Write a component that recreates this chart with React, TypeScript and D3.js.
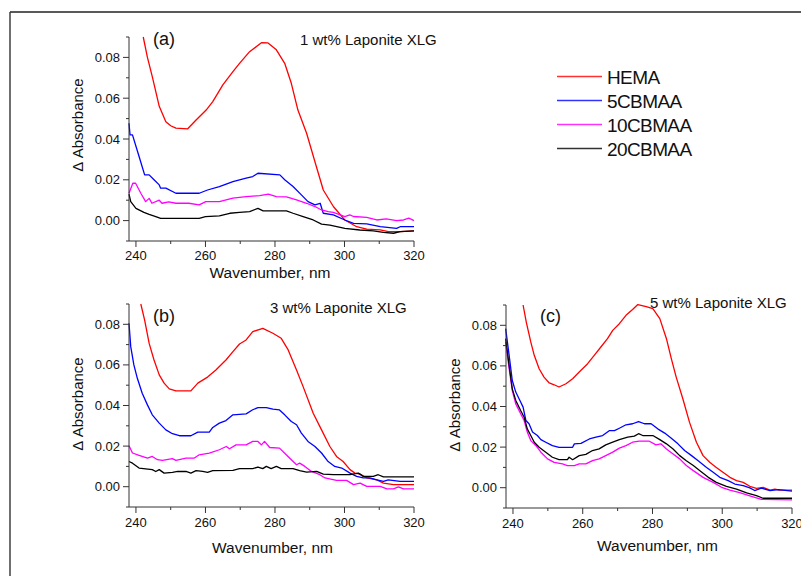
import React from "react";
import * as d3 from "d3";

type P = [number, number];

const seriesNames = ["HEMA", "5CBMAA", "10CBMAA", "20CBMAA"];
const seriesColors = ["#ff0000", "#0000ff", "#ff00ff", "#000000"];
const xTicks = [240, 260, 280, 300, 320];
const xMinor = [250, 270, 290, 310];
const yTicks = [0, 0.02, 0.04, 0.06, 0.08];
const yMinor = [-0.01, 0.01, 0.03, 0.05, 0.07, 0.09];
const xDomain: P = [238, 320];
const yDomain: P = [-0.01, 0.09];
const panelLabels = ["(a)", "(b)", "(c)"];
const panelTitles = ["1 wt% Laponite XLG", "3 wt% Laponite XLG", "5 wt% Laponite XLG"];

const aHEMA: P[] = [[242.1,0.09],[243.3,0.080],[244.7,0.0706],[246.7,0.056],[248.6,0.0485],[250,0.0465],[251.5,0.0453],[254.9,0.045],[257.3,0.0493],[260.2,0.0542],[262.1,0.0583],[265,0.0665],[267.9,0.073],[269.8,0.0771],[272.7,0.0828],[276.1,0.0872],[278,0.0871],[280.4,0.0837],[282.8,0.0771],[284.7,0.0673],[286.6,0.0542],[289.1,0.0428],[291.9,0.0265],[293.9,0.015],[296.8,0.0069],[300.1,0.0003],[303.5,-0.003],[306.4,-0.0042],[310.3,-0.0045],[312.6,-0.0054],[316,-0.0054],[320,-0.005]];
const a5: P[] = [[238,0.0477],[238.3,0.042],[239,0.042],[240.9,0.0314],[242.5,0.0224],[243.8,0.0224],[245.2,0.02],[246.7,0.0175],[247.1,0.0159],[248.6,0.0159],[251.5,0.0134],[258.2,0.0134],[260.6,0.015],[264,0.0167],[267.9,0.0191],[271.7,0.0208],[273.6,0.0216],[275.1,0.0232],[281.4,0.0224],[282.8,0.02],[285.2,0.0167],[287.6,0.0126],[289.5,0.0093],[291.5,0.0077],[293,0.0085],[293.9,0.0036],[296.8,0.0028],[300.1,0.0003],[302.6,-0.0014],[306.4,-0.0016],[310.3,-0.003],[315,-0.0038],[316,-0.003],[320,-0.003]];
const a10: P[] = [[238,0.0134],[239.1,0.0183],[239.9,0.0183],[241.4,0.0134],[242.8,0.0093],[243.8,0.0109],[244.6,0.0085],[246.7,0.01],[247.5,0.0085],[249.4,0.0092],[251.5,0.0085],[255.2,0.0085],[258.2,0.0077],[260.1,0.0093],[264,0.0093],[267.9,0.011],[271.7,0.0118],[275.6,0.0122],[278.1,0.013],[280.4,0.0118],[283.3,0.0116],[286.2,0.0101],[289.1,0.0085],[291.5,0.0069],[293.4,0.0052],[295.3,0.0044],[296.8,0.004],[300.1,0.002],[301.5,0.0028],[302.6,0.002],[306.4,0.0016],[309.3,0.0003],[312,0.0008],[315,0],[317,0.0003],[318.5,0.0012],[320,0]];
const a20: P[] = [[238,0.013],[238.5,0.0093],[240,0.006],[242.3,0.004],[243.8,0.003],[245.7,0.002],[247.1,0.0011],[258.2,0.0011],[260,0.0019],[264,0.0023],[267,0.0036],[269.8,0.004],[272.7,0.0044],[275.1,0.006],[276.6,0.0048],[283.3,0.0048],[285.2,0.0036],[288.1,0.0019],[291,0.0003],[293.4,-0.0017],[295.8,-0.0022],[300.1,-0.0038],[304.4,-0.0046],[308.3,-0.005],[311.2,-0.0058],[314.1,-0.0062],[316,-0.0054],[320,-0.005]];

const bHEMA: P[] = [[241.4,0.09],[242.5,0.0821],[243.8,0.0706],[245.2,0.0624],[246.7,0.0551],[248.1,0.051],[249.6,0.0482],[251.5,0.0472],[255.8,0.0472],[257.8,0.051],[260.6,0.054],[263,0.0575],[265.9,0.0624],[267.9,0.0665],[269.8,0.0703],[271.7,0.0723],[273.6,0.0764],[276.5,0.078],[279.4,0.0756],[281.8,0.0731],[283.8,0.0674],[286.2,0.0575],[288.1,0.0493],[291,0.0362],[293.4,0.028],[295.8,0.0198],[297.7,0.0149],[299.6,0.0124],[301.6,0.0084],[303,0.0067],[304.5,0.0062],[306.4,0.0043],[309.3,0.0034],[311.2,0.0018],[314.1,0.001],[320,0.001]];
const b5: P[] = [[238,0.0805],[238.5,0.069],[239.4,0.06],[240.4,0.0534],[241.8,0.046],[243.3,0.0403],[244.7,0.0354],[246.7,0.0313],[248.6,0.028],[250.5,0.0261],[252.5,0.0251],[255.8,0.0251],[257.8,0.0269],[261.1,0.0269],[262.1,0.0292],[264,0.0313],[265.9,0.0326],[267.9,0.0354],[271.7,0.0359],[273.6,0.0379],[275.1,0.039],[277.5,0.039],[279.4,0.0382],[281.3,0.0378],[282.8,0.0354],[284.7,0.0321],[286.2,0.0305],[287.6,0.0264],[289.5,0.0223],[291.5,0.0198],[293.4,0.0166],[295.3,0.0124],[297.2,0.01],[299.2,0.0092],[301.6,0.0067],[303.5,0.0051],[305.4,0.0043],[307.3,0.0043],[309.3,0.0034],[311.2,0.0026],[312.6,0.0034],[316,0.0026],[320,0.0026]];
const b10: P[] = [[238,0.0202],[239,0.0166],[240.9,0.0154],[243.3,0.0141],[244.7,0.0149],[246.2,0.0133],[247.6,0.013],[250.5,0.0138],[251.5,0.013],[254.4,0.0141],[256.8,0.0141],[258.2,0.0157],[261.1,0.0165],[264,0.0182],[266,0.0198],[266.9,0.0187],[268.8,0.0206],[271.7,0.0206],[273.6,0.0223],[275.1,0.0223],[276.1,0.0206],[277,0.0223],[278.5,0.0193],[281.3,0.019],[282.8,0.0165],[284.7,0.0133],[286.2,0.0108],[287.1,0.0116],[288.6,0.01],[290.5,0.0075],[292.9,0.0059],[294.4,0.0043],[297.7,0.0031],[300.6,0.0031],[302.6,0.001],[304.5,0.0018],[306.4,0.0002],[310.3,0.0002],[312.2,-0.0011],[314.1,-0.0011],[315.5,-0.0001],[317,-0.0011],[320,-0.0011]];
const b20: P[] = [[238,0.0124],[239,0.0116],[240.9,0.0092],[244.7,0.0084],[245.7,0.0075],[246.7,0.0084],[248.1,0.0067],[250.5,0.0071],[252,0.0075],[254.4,0.0075],[255.8,0.0067],[257.3,0.0079],[259.2,0.0075],[260.6,0.0071],[262.1,0.0079],[267.9,0.008],[269.8,0.0089],[273.6,0.0089],[275.1,0.0097],[276.5,0.0089],[277.5,0.01],[278.9,0.0089],[280.4,0.01],[281.8,0.0089],[285.2,0.0089],[287.1,0.0079],[289.1,0.0072],[292,0.0075],[293.9,0.0062],[296.8,0.0059],[301.6,0.0059],[304,0.0067],[305.4,0.0051],[308.3,0.0051],[309.7,0.0059],[311.2,0.0048],[320,0.0048]];

const cHEMA: P[] = [[242.9,0.09],[243.8,0.0817],[245.1,0.0718],[246.1,0.0652],[247.5,0.0586],[248.9,0.0545],[250.4,0.0516],[251.8,0.0507],[253.2,0.0496],[255.2,0.0512],[257.1,0.0537],[259,0.057],[261.4,0.0611],[263.3,0.0652],[265.2,0.0693],[267.1,0.0734],[268.6,0.0775],[270.5,0.0808],[272.4,0.0849],[274.3,0.0878],[275.8,0.0902],[278.2,0.0892],[280.1,0.0882],[282.1,0.0833],[284,0.0734],[285.4,0.0636],[286.8,0.0545],[288.7,0.0438],[290.6,0.0323],[292.6,0.0224],[294.5,0.0158],[296.4,0.0125],[298.3,0.01],[300.2,0.0076],[302.2,0.0051],[304.1,0.0035],[306,0.0026],[307.9,0.0007],[309.8,-0.0003],[311.7,0.0002],[313.7,-0.0012],[315.1,-0.0007],[316.5,-0.0012],[320,-0.0012]];
const c5: P[] = [[237.9,0.0784],[238.9,0.0652],[239.8,0.0528],[240.8,0.0471],[242.2,0.0422],[242.9,0.0397],[243.7,0.0331],[244.6,0.0315],[245.6,0.0274],[247,0.0257],[248,0.0237],[249.4,0.0224],[251.3,0.0207],[253.2,0.0199],[257.1,0.0199],[257.6,0.0216],[259.5,0.0218],[261.9,0.024],[263.8,0.0249],[265.7,0.0257],[267.6,0.0281],[269.1,0.0281],[270.5,0.0293],[272.4,0.031],[274.3,0.0315],[276,0.0326],[277.7,0.0315],[279.6,0.0315],[281.5,0.029],[283.5,0.0269],[285.4,0.0244],[287.3,0.0216],[289.2,0.0183],[291.2,0.0158],[293.1,0.0133],[295.5,0.01],[297.4,0.0076],[299.3,0.0051],[301.7,0.0035],[303.6,0.0018],[306,0.001],[307.9,-0.0001],[309.3,-0.0014],[311.2,-0.0002],[313.7,-0.0014],[316.1,-0.0009],[320,-0.0017]];
const c10: P[] = [[237.9,0.0718],[238.9,0.0586],[239.8,0.0479],[240.8,0.0413],[242.2,0.0364],[243.2,0.0331],[244.1,0.0274],[245.1,0.0232],[246.6,0.0207],[248,0.0175],[249.9,0.0142],[251.8,0.0125],[254.2,0.0117],[255.6,0.0109],[257.6,0.0109],[259,0.0117],[260.9,0.0117],[262.8,0.0133],[264.7,0.0142],[266.6,0.0158],[268.6,0.0175],[270.5,0.0195],[272.4,0.0207],[274.3,0.0224],[276.2,0.0229],[279.1,0.0229],[281,0.0211],[282.4,0.0216],[284,0.0191],[285.9,0.0166],[287.8,0.0142],[289.7,0.0109],[291.7,0.0084],[294.5,0.0051],[297.4,0.0026],[299.8,0.0002],[302.2,-0.0012],[305,-0.0024],[307.9,-0.004],[311.2,-0.0057],[320,-0.006]];
const c20: P[] = [[237.9,0.0734],[238.9,0.0602],[239.8,0.0487],[240.8,0.043],[242.2,0.038],[243.2,0.0347],[244.1,0.029],[245.1,0.0257],[246.1,0.0224],[247.5,0.0199],[249.4,0.0175],[251.3,0.015],[253.2,0.0138],[255.6,0.0138],[256.1,0.015],[257.1,0.0138],[259,0.0158],[260.9,0.0164],[262.8,0.0183],[264.7,0.0191],[266.6,0.0211],[268.6,0.0224],[270.5,0.0237],[272.9,0.0249],[274.8,0.0254],[276,0.0266],[277.2,0.0257],[280.1,0.0257],[282.1,0.0237],[284,0.0216],[285.9,0.0191],[287.8,0.0158],[289.7,0.0133],[291.7,0.0109],[293.6,0.0084],[296,0.0051],[298.3,0.0026],[301.2,0.0007],[304.1,-0.0007],[307,-0.0026],[309.8,-0.0039],[311.7,-0.0052],[320,-0.0052]];

const panelData: P[][][] = [
  [aHEMA, a5, a10, a20],
  [bHEMA, b5, b10, b20],
  [cHEMA, c5, c10, c20],
];

const FONT = "'Liberation Sans', Arial, Helvetica, sans-serif";
const AX = "#333";

interface Layout {
  left: number; right: number; top: number; bottom: number;
  labelX: number; labelY: number;
  titleX: number; titleY: number;
  yTitleX: number; yTitleY: number;
  xTitleX: number; xTitleDy: number; tickDy: number;
}

const layouts: Layout[] = [
  { left: 129, right: 414, top: 37, bottom: 241, labelX: 153, labelY: 45, titleX: 300, titleY: 45, yTitleX: 83, yTitleY: 125, xTitleX: 270, xTitleDy: 37, tickDy: 19 },
  { left: 129, right: 414, top: 304, bottom: 507, labelX: 153, labelY: 322, titleX: 270, titleY: 312.5, yTitleX: 83, yTitleY: 404, xTitleX: 272.5, xTitleDy: 45.5, tickDy: 20 },
  { left: 506, right: 792, top: 305, bottom: 508, labelX: 540, labelY: 322, titleX: 650, titleY: 308, yTitleX: 460, yTitleY: 405, xTitleX: 657.5, xTitleDy: 42.5, tickDy: 20 },
];

function Panel({ idx }: { idx: number }) {
  const L = layouts[idx];
  const x = d3.scaleLinear().domain(xDomain).range([L.left, L.right]);
  const y = d3.scaleLinear().domain(yDomain).range([L.bottom, L.top]);
  const line = d3.line<P>().x((d) => x(d[0])).y((d) => y(d[1]));
  const fmt = d3.format(".2f");
  return (
    <g>
      {panelData[idx].map((s, i) => (
        <path key={i} d={line(s) || ""} fill="none" stroke={seriesColors[i]} strokeWidth={1.3} strokeLinejoin="round" />
      ))}
      <line x1={L.left} x2={L.left} y1={L.top} y2={L.bottom} stroke={AX} strokeWidth={1} />
      <line x1={L.left} x2={L.right} y1={L.bottom} y2={L.bottom} stroke={AX} strokeWidth={1} />
      {yTicks.map((t) => (
        <g key={"y" + t}>
          <line x1={L.left - 6} x2={L.left} y1={y(t)} y2={y(t)} stroke={AX} />
          <text x={L.left - 9} y={y(t) + 4.5} textAnchor="end" fontSize={13} fontFamily={FONT} fill="#111">{fmt(t)}</text>
        </g>
      ))}
      {yMinor.map((t) => (
        <line key={"ym" + t} x1={L.left - 3} x2={L.left} y1={y(t)} y2={y(t)} stroke={AX} />
      ))}
      {xTicks.map((t) => (
        <g key={"x" + t}>
          <line x1={x(t)} x2={x(t)} y1={L.bottom} y2={L.bottom + 6} stroke={AX} />
          <text x={x(t)} y={L.bottom + L.tickDy} textAnchor="middle" fontSize={13} fontFamily={FONT} fill="#111">{t}</text>
        </g>
      ))}
      {xMinor.map((t) => (
        <line key={"xm" + t} x1={x(t)} x2={x(t)} y1={L.bottom} y2={L.bottom + 3} stroke={AX} />
      ))}
      <text x={L.xTitleX} y={L.bottom + L.xTitleDy} textAnchor="middle" fontSize={15.5} fontFamily={FONT} fill="#111">Wavenumber, nm</text>
      <text transform={`translate(${L.yTitleX},${L.yTitleY}) rotate(-90)`} textAnchor="middle" fontSize={15} fontFamily={FONT} fill="#111">Δ Absorbance</text>
      <text x={L.labelX} y={L.labelY} fontSize={18} fontFamily={FONT} fill="#111">{panelLabels[idx]}</text>
      <text x={L.titleX} y={L.titleY} fontSize={15} fontFamily={FONT} fill="#111">{panelTitles[idx]}</text>
    </g>
  );
}

export default function App() {
  const legendY = d3.scaleLinear().domain([0, 3]).range([76.5, 148.5]);
  return (
    <svg width={801} height={576} style={{ position: "absolute", left: 0, top: 0, background: "#fff" }}>
      <rect x={0} y={0} width={801} height={576} fill="#fff" />
      <line x1={10} x2={801} y1={12} y2={12} stroke="#222" strokeWidth={1.4} />
      <line x1={10} x2={10} y1={12} y2={576} stroke="#333" strokeWidth={1.4} />
      {[0, 1, 2].map((i) => <Panel key={i} idx={i} />)}
      {seriesNames.map((n, i) => (
        <g key={n}>
          <line x1={557} x2={602} y1={legendY(i)} y2={legendY(i)} stroke={seriesColors[i]} strokeWidth={1.5} opacity={0.8} />
          <text x={607} y={legendY(i) + 7} fontSize={19} fontFamily={FONT} fill="#111" letterSpacing={-0.6}>{n}</text>
        </g>
      ))}
    </svg>
  );
}
